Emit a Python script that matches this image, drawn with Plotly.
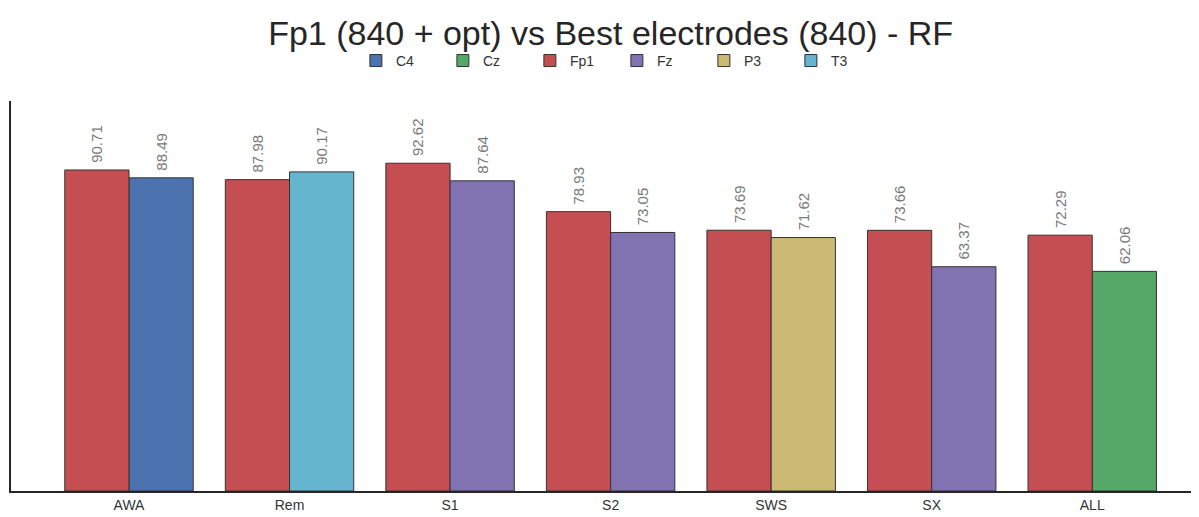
import plotly.graph_objects as go

categories = ["AWA", "Rem", "S1", "S2", "SWS", "SX", "ALL"]
fp1_values = [90.71, 87.98, 92.62, 78.93, 73.69, 73.66, 72.29]
best_electrodes = ["C4", "T3", "Fz", "Fz", "P3", "Fz", "Cz"]
best_values = [88.49, 90.17, 87.64, 73.05, 71.62, 63.37, 62.06]
legend_order = ["C4", "Cz", "Fp1", "Fz", "P3", "T3"]

colors = {
    "C4": "#4C72B0",
    "Cz": "#55A868",
    "Fp1": "#C44E52",
    "Fz": "#8172B2",
    "P3": "#CCB974",
    "T3": "#64B5CD",
}

fig = go.Figure()
for name in legend_order:
    if name == "Fp1":
        xs = categories
        ys = fp1_values
        offset = -0.4
    else:
        xs = [c for c, e in zip(categories, best_electrodes) if e == name]
        ys = [v for v, e in zip(best_values, best_electrodes) if e == name]
        offset = 0.0
    fig.add_trace(go.Bar(
        x=xs, y=ys, name=name,
        width=0.4, offset=offset,
        marker=dict(color=colors[name], line=dict(color="#333333", width=1)),
        text=[f" {v:.2f}" for v in ys],
        textposition="outside", textangle=-90,
        textfont=dict(color="#7a7a7a", size=15),
        cliponaxis=False,
    ))

fig.update_layout(
    width=1191, height=509,
    barmode="overlay",
    plot_bgcolor="white", paper_bgcolor="white",
    font=dict(family="Liberation Sans, Arial, sans-serif", color="#333333"),
    title=dict(text="Fp1 (840 + opt) vs Best electrodes (840) - RF",
               x=0.506, xanchor="center", y=0.951, yanchor="middle",
               font=dict(size=34, color="#262626")),
    legend=dict(orientation="h", x=0.51, xanchor="center", y=0.896, yanchor="middle",
                yref="container", font=dict(size=14, color="#333333"),
                itemwidth=30, entrywidth=42, traceorder="normal"),
    margin=dict(l=3, r=0, t=93, b=26),
    showlegend=True,
    uniformtext=dict(minsize=8, mode="show"),
)
fig.update_xaxes(type="category", categoryorder="array", categoryarray=categories,
                 range=[-0.735, 6.665], showline=True, linecolor="#262626", linewidth=1.5,
                 ticks="", tickfont=dict(size=14, color="#333333"), showgrid=False)
fig.update_yaxes(range=[0, 110.2], showline=True, linecolor="#262626", linewidth=1.5,
                 showticklabels=False, ticks="", showgrid=False, zeroline=False)

fig.write_html("out.html")
